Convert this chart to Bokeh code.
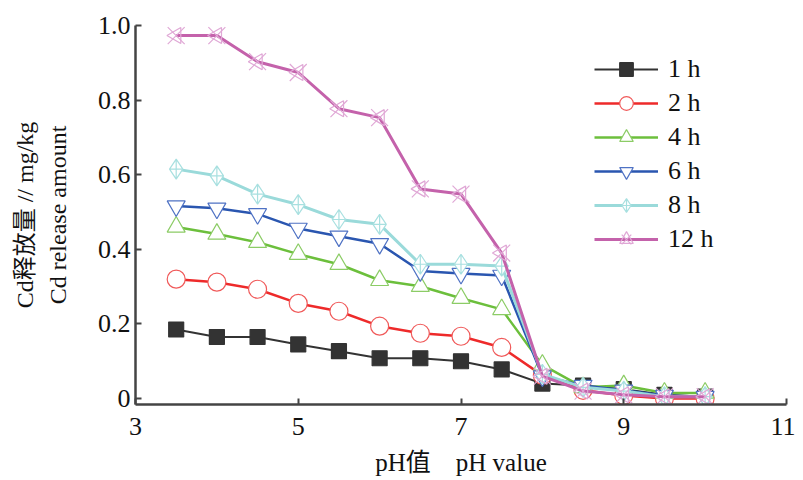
import numpy as np
from bokeh.plotting import figure
from bokeh.models import Range1d, FixedTicker, Legend, LinearAxis
from bokeh.embed import file_html
from bokeh.resources import INLINE

ph = [3.5, 4, 4.5, 5, 5.5, 6, 6.5, 7, 7.5, 8, 8.5, 9, 9.5, 10]
h1 = [0.185, 0.165, 0.165, 0.145, 0.127, 0.108, 0.108, 0.100, 0.078, 0.040, 0.035, 0.025, 0.010, 0.005]
h2 = [0.320, 0.312, 0.293, 0.255, 0.234, 0.194, 0.175, 0.167, 0.137, 0.062, 0.022, 0.008, 0.000, 0.000]
h4 = [0.460, 0.441, 0.419, 0.387, 0.360, 0.317, 0.301, 0.269, 0.239, 0.090, 0.030, 0.035, 0.015, 0.015]
h6 = [0.516, 0.510, 0.495, 0.456, 0.435, 0.415, 0.342, 0.335, 0.330, 0.060, 0.035, 0.022, 0.008, 0.005]
h8 = [0.615, 0.597, 0.548, 0.520, 0.480, 0.467, 0.360, 0.360, 0.355, 0.065, 0.030, 0.020, 0.005, 0.005]
h12 = [0.973, 0.973, 0.903, 0.874, 0.777, 0.753, 0.562, 0.548, 0.390, 0.060, 0.020, 0.010, 0.005, 0.005]

x_ticks = [3, 5, 7, 9, 11]
y_ticks = [0, 0.2, 0.4, 0.6, 0.8, 1.0]
y_tick_labels = ["0", "0.2", "0.4", "0.6", "0.8", "1.0"]
legend_labels = ["1 h", "2 h", "4 h", "6 h", "8 h", "12 h"]
x_title = "pH值\u00a0\u00a0\u00a0\u00a0pH value"
y_title_cn = "Cd释放量 // mg/kg"
y_title_en = "Cd release amount"

SERIF = "Liberation Serif, Noto Sans CJK SC"

W, H = 795, 478
p = figure(width=W, height=H, output_backend="svg", toolbar_location=None,
           x_range=Range1d(3, 11), y_range=Range1d(-0.016, 1.0),
           min_border_left=135, min_border_right=W - 786, min_border_top=25,
           min_border_bottom=60)
p.outline_line_color = None
p.grid.visible = False
p.background_fill_color = "white"

for ax in (p.xaxis[0], p.yaxis[0]):
    ax.axis_line_width = 2.5
    ax.axis_line_color = "#444444"
    ax.major_tick_line_color = "#444444"
    ax.major_tick_line_width = 2
    ax.major_tick_in = 6
    ax.major_tick_out = 0
    ax.minor_tick_line_color = None
    ax.major_label_text_font = SERIF
    ax.major_label_text_font_size = "26px"
    ax.major_label_text_color = "#111111"
    ax.axis_label_text_font = SERIF
    ax.axis_label_text_font_style = "normal"
    ax.axis_label_text_font_size = "24px"
    ax.axis_label_text_color = "#111111"

p.xaxis.ticker = FixedTicker(ticks=x_ticks)
p.yaxis.ticker = FixedTicker(ticks=y_ticks)
p.yaxis.major_label_overrides = {t: l for t, l in zip(y_ticks, y_tick_labels)}
p.xaxis.major_label_standoff = 13
p.yaxis.major_label_standoff = 5
p.xaxis.axis_label = x_title
p.xaxis.axis_label_text_font_size = "25px"
p.xaxis.axis_label_standoff = 11
p.yaxis.axis_label = y_title_en
p.yaxis.axis_label_standoff = 24

outer = LinearAxis(ticker=FixedTicker(ticks=[]), axis_line_color=None,
                   major_tick_line_color=None, minor_tick_line_color=None,
                   axis_label=y_title_cn, axis_label_standoff=4,
                   axis_label_text_font=SERIF, axis_label_text_font_style="normal",
                   axis_label_text_font_size="24px", axis_label_text_color="#111111")
p.add_layout(outer, "left")

series = [
    (h1, "#333333", "#333333", "square", 15, "#333333", 2.0),
    (h2, "#ee2a2a", "#f05a5a", "circle", 18, "white", 2.5),
    (h4, "#6cbf3c", "#8ccc66", "triangle", 18, "white", 2.5),
    (h6, "#2a56b0", "#4f72c4", "inverted_triangle", 18, "white", 2.5),
    (h8, "#9adada", "#a8e0e0", "diamond_cross", 20, "white", 3.0),
    (h12, "#c462ab", "#e0a8d6", "x", 24, None, 3.0),
]

items = []
for (vals, lc, mc, marker, size, fill, lw), lab in zip(series, legend_labels):
    rl = p.line(ph, vals, line_color=lc, line_width=lw)
    rs = p.scatter(ph, vals, marker=marker, size=size, line_color=mc, line_width=1.2,
                   fill_color=fill if fill else None)
    rends = [rl, rs]
    if marker == "x":
        rt = p.scatter(ph, vals, marker="triangle", size=16, angle=np.pi / 2,
                       line_color=mc, line_width=1.2, fill_color=None)
        rends.append(rt)
    items.append((lab, rends))

legend = Legend(items=items, location=(459, 148))
legend.glyph_width = 64
legend.glyph_height = 34
legend.label_height = 34
legend.spacing = 0
legend.padding = 0
legend.margin = 0
legend.label_standoff = 10
legend.border_line_color = None
legend.background_fill_alpha = 0
legend.label_text_font = SERIF
legend.label_text_font_size = "26px"
legend.label_text_color = "#111111"
p.add_layout(legend)

open("out.html", "w").write(file_html(p, INLINE))
